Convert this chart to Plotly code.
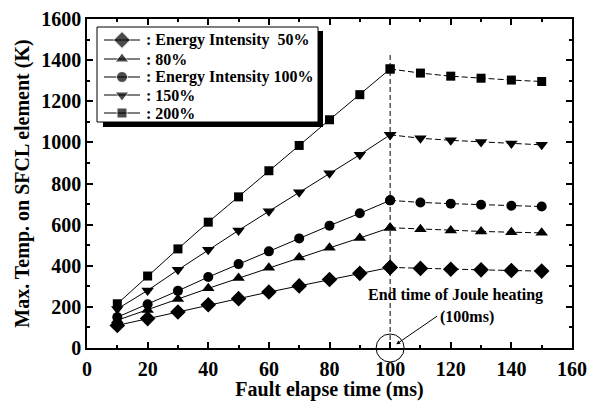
import plotly.graph_objects as go

time_ms = [10, 20, 30, 40, 50, 60, 70, 80, 90, 100, 110, 120, 130, 140, 150]
temp_50 = [110, 143, 175, 210, 240, 272, 302, 333, 363, 392, 387, 383, 380, 377, 374]
temp_80 = [135, 185, 238, 290, 340, 390, 440, 487, 535, 585, 578, 572, 567, 563, 560]
temp_100 = [150, 213, 278, 345, 408, 470, 533, 595, 655, 718, 708, 702, 697, 692, 688]
temp_150 = [190, 280, 380, 478, 572, 665, 757, 850, 940, 1037, 1020, 1010, 1002, 995, 988]
temp_200 = [215, 350, 482, 612, 735, 862, 985, 1110, 1232, 1357, 1337, 1322, 1312, 1303, 1296]

names = [": Energy Intensity \u00a050%", ": 80%", ": Energy Intensity 100%", ": 150%", ": 200%"]
symbols = ["diamond", "triangle-up", "circle", "triangle-down", "square"]
sizes = [12, 11, 10, 11, 9]
series = [temp_50, temp_80, temp_100, temp_150, temp_200]
joule_end = 100

FONT = "Liberation Serif"
fig = go.Figure()
for nm, sym, sz, ys in zip(names, symbols, sizes, series):
    xs_h = [x for x in time_ms if x <= joule_end]
    ys_h = [y for x, y in zip(time_ms, ys) if x <= joule_end]
    xs_c = [x for x in time_ms if x >= joule_end]
    ys_c = [y for x, y in zip(time_ms, ys) if x >= joule_end]
    fig.add_trace(go.Scatter(x=xs_h, y=ys_h, mode="lines+markers", name=nm, showlegend=False,
                             line=dict(color="black", width=1),
                             marker=dict(symbol=sym, size=sz, color="black")))
    fig.add_trace(go.Scatter(x=xs_c, y=ys_c, mode="lines+markers", name=nm, showlegend=False,
                             line=dict(color="black", width=1, dash="6px,3px"),
                             marker=dict(symbol=sym, size=sz, color="black")))

# ---- hand-made legend on a pixel-scaled overlay axis pair ----
PX_L, PX_R, PX_T, PX_B = 87, 572, 19, 348
leg_rows = [40, 59, 77, 95, 113]
fig.add_shape(type="rect", xref="x2", yref="y2", x0=103, x1=323, y0=31, y1=127,
              fillcolor="black", line=dict(width=0), layer="below")
fig.add_shape(type="rect", xref="x2", yref="y2", x0=97, x1=318, y0=27, y1=122,
              fillcolor="white", line=dict(color="black", width=1), layer="below")
for nm, sym, sz, ry in zip(names, symbols, sizes, leg_rows):
    fig.add_trace(go.Scatter(x=[104, 122, 140], y=[ry, ry, ry], xaxis="x2", yaxis="y2",
                             mode="lines+markers", showlegend=False, hoverinfo="skip",
                             line=dict(color="black", width=1),
                             marker=dict(symbol=sym, size=[0, sz + 1, 0], color="black")))
    fig.add_annotation(x=144, y=ry, xref="x2", yref="y2", xanchor="left", yanchor="middle",
                       text="<b>" + nm + "</b>", showarrow=False,
                       font=dict(family=FONT, size=16, color="black"))

# vertical dashed line at end of Joule heating
fig.add_shape(type="line", xref="x", yref="y", x0=joule_end, x1=joule_end, y0=0, y1=1440,
              line=dict(color="black", width=1, dash="5px,3px"))
# circle around 100 ms on the axis
fig.add_shape(type="circle", xref="paper", yref="paper", xsizemode="pixel", ysizemode="pixel",
              xanchor=joule_end / 160, yanchor=0, x0=-14, x1=14, y0=-14, y1=14,
              line=dict(color="black", width=1))

fig.add_annotation(x=121.5, y=258, xref="x", yref="y", text="<b>End time of Joule heating</b>",
                   showarrow=False, font=dict(family=FONT, size=16, color="black"))
fig.add_annotation(x=125.5, y=150, xref="x", yref="y", text="<b>(100ms)</b>",
                   showarrow=False, font=dict(family=FONT, size=16, color="black"))
fig.add_annotation(x=102, y=18, xref="x", yref="y", ax=116, ay=160, axref="x", ayref="y",
                   text="", showarrow=True, arrowhead=2, arrowsize=0.8, arrowwidth=1, arrowcolor="black")

axis_common = dict(showline=True, linecolor="black", linewidth=1.5, mirror="ticks",
                   ticks="inside", ticklen=6, tickwidth=1.5, tickcolor="black",
                   showgrid=False, zeroline=False, automargin=False,
                   tickfont=dict(family=FONT, size=20, color="black"))
fig.update_layout(
    xaxis=dict(range=[0, 160], dtick=20, ticklabelstandoff=2,
               title=dict(text="<b>Fault elapse time (ms)</b>",
                          font=dict(family=FONT, size=20, color="black"), standoff=0),
               minor=dict(dtick=10, ticks="inside", ticklen=3, tickcolor="black"),
               tickprefix="<b>", ticksuffix="</b>", **axis_common),
    yaxis=dict(range=[0, 1600], dtick=200,
               title=dict(text="<b>Max. Temp. on SFCL element (K)</b>",
                          font=dict(family=FONT, size=20, color="black"), standoff=6),
               minor=dict(dtick=100, ticks="inside", ticklen=3, tickcolor="black"),
               tickprefix="<b>", ticksuffix="</b>", **axis_common),
    xaxis2=dict(overlaying="x", range=[PX_L, PX_R], visible=False),
    yaxis2=dict(overlaying="y", range=[PX_B, PX_T], visible=False),
    width=589, height=401, margin=dict(l=PX_L, r=589 - PX_R, t=PX_T, b=401 - PX_B),
    paper_bgcolor="white", plot_bgcolor="white",
    font=dict(family=FONT, size=15, color="black"),
    showlegend=False,
)

fig.write_html("out.html")
